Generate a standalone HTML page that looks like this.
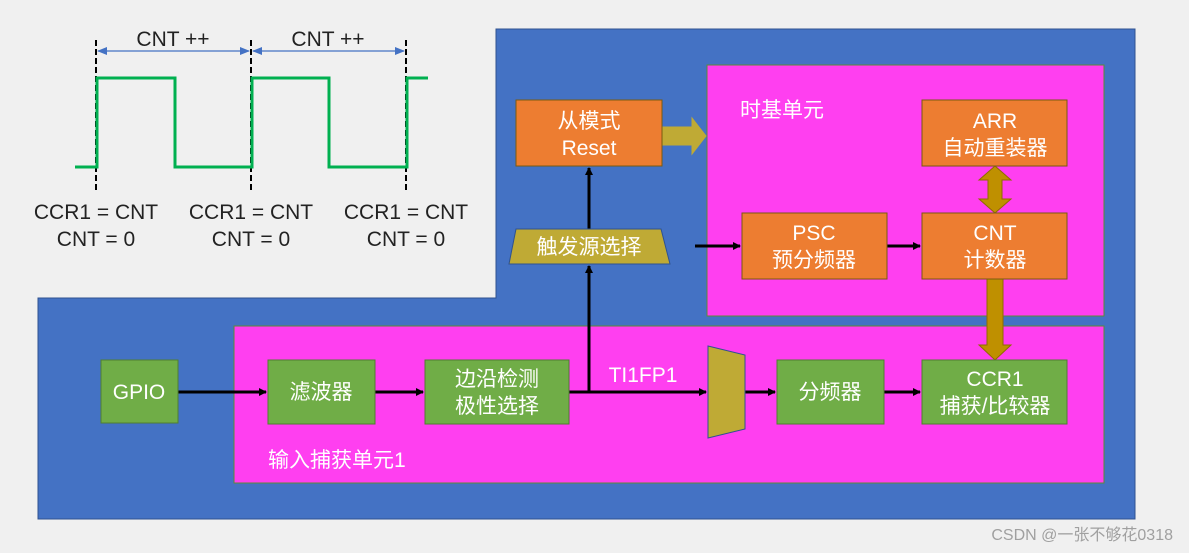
<!DOCTYPE html>
<html><head><meta charset="utf-8"><style>
html,body{margin:0;padding:0;background:#f0f0f0;}
svg{display:block;}
text{font-family:"Liberation Sans","Noto Sans CJK SC",sans-serif;}
</style></head><body>
<svg width="1189" height="553" viewBox="0 0 1189 553" xmlns="http://www.w3.org/2000/svg">
<defs>
<marker id="ab" markerWidth="8" markerHeight="8" refX="7" refY="4" orient="auto" markerUnits="userSpaceOnUse"><path d="M0,0 L8,4 L0,8 z" fill="#000"/></marker>
<marker id="bl" markerWidth="10" markerHeight="8" refX="9" refY="4" orient="auto" markerUnits="userSpaceOnUse"><path d="M0,0 L10,4 L0,8 z" fill="#4472c4"/></marker>
<marker id="bls" markerWidth="10" markerHeight="8" refX="1" refY="4" orient="auto" markerUnits="userSpaceOnUse"><path d="M10,0 L0,4 L10,8 z" fill="#4472c4"/></marker>
</defs>
<rect width="1189" height="553" fill="#f0f0f0"/>
<path d="M496,29 H1135 V519 H38 V298 H496 Z" fill="#4472c4" stroke="#2f528f" stroke-width="1"/>
<rect x="707" y="65" width="397" height="251" fill="#ff3ff0" stroke="#5a8a3a" stroke-width="1"/>
<rect x="234" y="326" width="870" height="157" fill="#ff3ff0" stroke="#5a8a3a" stroke-width="1"/>
<text x="740" y="117" font-size="21" fill="#fff">时基单元</text>
<text x="268" y="467" font-size="21" fill="#fff">输入捕获单元1</text>

<g stroke="#000" stroke-width="2" stroke-dasharray="6,3">
<line x1="96" y1="40" x2="96" y2="192"/><line x1="251" y1="40" x2="251" y2="192"/><line x1="406" y1="40" x2="406" y2="192"/>
</g>
<polyline points="75,167 97,167 97,78 175,78 175,167 252,167 252,78 329,78 329,167 407,167 407,78 428,78" fill="none" stroke="#00b050" stroke-width="3"/>
<line x1="98" y1="51" x2="249" y2="51" stroke="#4472c4" stroke-width="1.2" marker-start="url(#bls)" marker-end="url(#bl)"/>
<line x1="253" y1="51" x2="404" y2="51" stroke="#4472c4" stroke-width="1.2" marker-start="url(#bls)" marker-end="url(#bl)"/>
<g font-size="21" fill="#222" text-anchor="middle">
<text x="173" y="46">CNT ++</text><text x="328" y="46">CNT ++</text>
<text x="96" y="219">CCR1 = CNT</text><text x="96" y="246">CNT = 0</text>
<text x="251" y="219">CCR1 = CNT</text><text x="251" y="246">CNT = 0</text>
<text x="406" y="219">CCR1 = CNT</text><text x="406" y="246">CNT = 0</text>
</g>

<g stroke="#000" stroke-width="3" fill="none">
<line x1="178" y1="392" x2="266" y2="392" marker-end="url(#ab)"/>
<line x1="375" y1="392" x2="423" y2="392" marker-end="url(#ab)"/>
<line x1="569" y1="392" x2="706" y2="392" marker-end="url(#ab)"/>
<line x1="589" y1="392" x2="589" y2="266" marker-end="url(#ab)"/>
<line x1="589" y1="229" x2="589" y2="168" marker-end="url(#ab)"/>
<line x1="745" y1="392" x2="775" y2="392" marker-end="url(#ab)"/>
<line x1="884" y1="392" x2="920" y2="392" marker-end="url(#ab)"/>
<line x1="695" y1="246" x2="740" y2="246" marker-end="url(#ab)"/>
<line x1="887" y1="246" x2="920" y2="246" marker-end="url(#ab)"/>
</g>

<path d="M662,127 H692 V118 L706,136 L692,154 V145 H662 Z" fill="#bfaa35" stroke="#bfaa35"/>
<path d="M995,166 L1011,180 H1002 V199 H1011 L995,213 L979,199 H988 V180 H979 Z" fill="#bf9000" stroke="#8f6a00" stroke-width="1"/>
<path d="M987,279 H1003 V345 H1011 L995,360 L979,345 H987 Z" fill="#bf9000" stroke="#8f6a00" stroke-width="1"/>

<g fill="#ed7d31" stroke="#7a5a10" stroke-width="1">
<rect x="516" y="100" width="146" height="66"/>
<rect x="742" y="213" width="145" height="66"/>
<rect x="922" y="213" width="145" height="66"/>
<rect x="922" y="100" width="145" height="66"/>
</g>
<g fill="#70ad47" stroke="#507e32" stroke-width="1">
<rect x="101" y="360" width="77" height="63"/>
<rect x="268" y="360" width="107" height="64"/>
<rect x="425" y="360" width="144" height="64"/>
<rect x="777" y="360" width="107" height="64"/>
<rect x="922" y="360" width="145" height="64"/>
</g>
<path d="M516,229 H661 L670,264 H509 Z" fill="#bfaa35" stroke="#2f528f" stroke-width="1"/>
<path d="M708,346 L745,355 V429 L708,438 Z" fill="#bfaa35" stroke="#2f528f" stroke-width="1"/>

<g font-size="21" fill="#fff" text-anchor="middle">
<text x="589" y="128">从模式</text><text x="589" y="155">Reset</text>
<text x="589" y="254">触发源选择</text>
<text x="814" y="240">PSC</text><text x="814" y="267">预分频器</text>
<text x="995" y="240">CNT</text><text x="995" y="267">计数器</text>
<text x="995" y="128">ARR</text><text x="995" y="155">自动重装器</text>
<text x="139" y="399">GPIO</text>
<text x="321" y="399">滤波器</text>
<text x="497" y="386">边沿检测</text><text x="497" y="413">极性选择</text>
<text x="830" y="399">分频器</text>
<text x="995" y="386">CCR1</text><text x="995" y="413">捕获/比较器</text>
<text x="643" y="382">TI1FP1</text>
</g>
<text x="1173" y="540" font-size="16" fill="#a0a0a0" text-anchor="end">CSDN @一张不够花0318</text>
</svg>
</body></html>
